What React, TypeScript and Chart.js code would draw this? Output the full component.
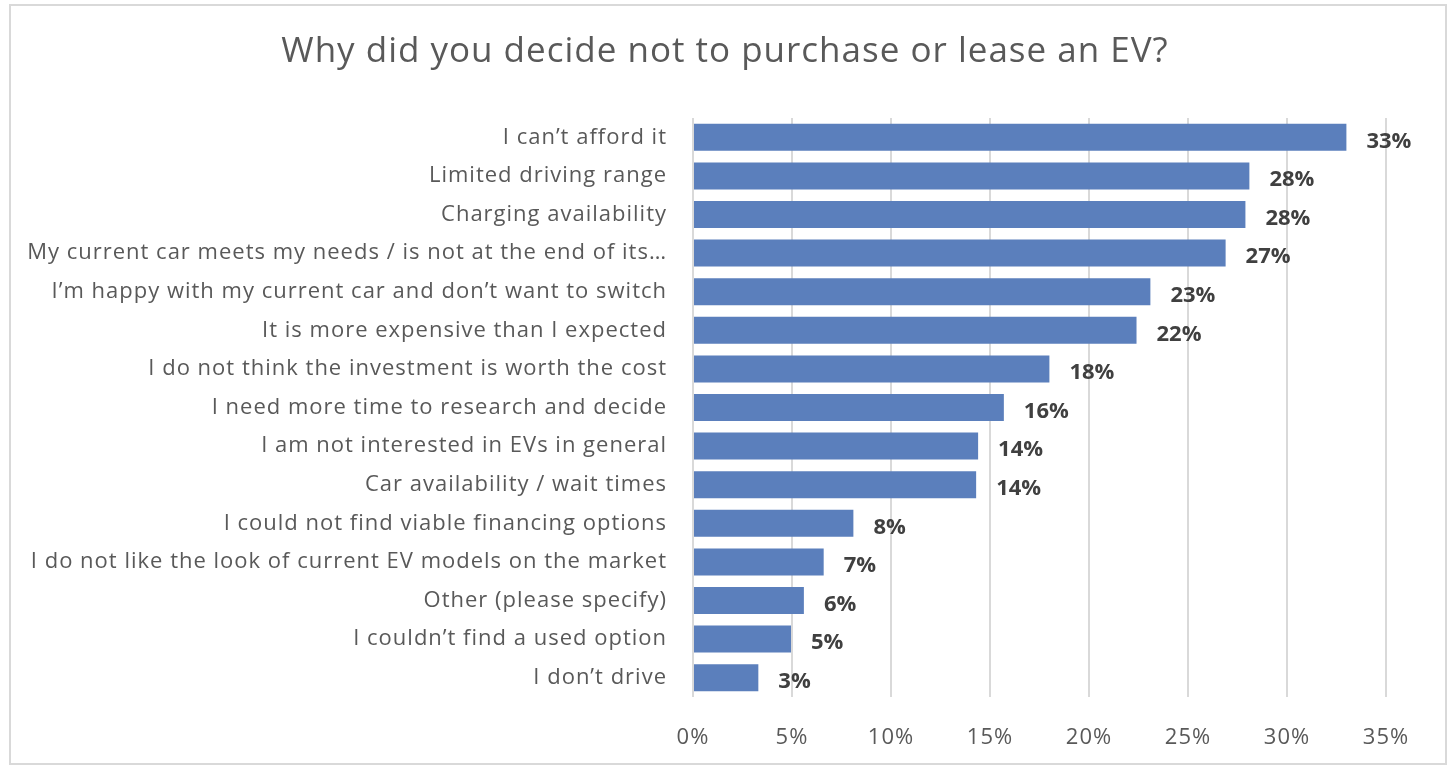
import React, { useEffect, useRef } from "react";
import { Chart, registerables } from "chart.js";

Chart.register(...registerables);

const TITLE = "Why did you decide not to purchase or lease an EV?";

const categories = [
  "I can\u2019t afford it",
  "Limited driving range",
  "Charging availability",
  "My current car meets my needs / is not at the end of its\u2026",
  "I\u2019m happy with my current car and don\u2019t want to switch",
  "It is more expensive than I expected",
  "I do not think the investment is worth the cost",
  "I need more time to research and decide",
  "I am not interested in EVs in general",
  "Car availability / wait times",
  "I could not find viable financing options",
  "I do not like the look of current EV models on the market",
  "Other (please specify)",
  "I couldn\u2019t find a used option",
  "I don\u2019t drive",
];

const values = [33.0, 28.1, 27.9, 26.9, 23.1, 22.4, 18.0, 15.7, 14.4, 14.3, 8.1, 6.6, 5.6, 4.95, 3.3];

const xTickMin = 0;
const xTickMax = 35;
const xTickStep = 5;

const FONT = "'Open Sans', Lato, sans-serif";
const TEXT = "#595959";

export default function App() {
  const ref = useRef<HTMLCanvasElement | null>(null);

  useEffect(() => {
    if (!ref.current) return;
    const framePlugin = {
      id: "frame",
      beforeDraw(chart: any) {
        const ctx = chart.ctx;
        ctx.save();
        ctx.fillStyle = "#ffffff";
        ctx.fillRect(0, 0, chart.width, chart.height);
        ctx.strokeStyle = "#d9d9d9";
        ctx.lineWidth = 2;
        ctx.strokeRect(10, 5, 1436, 759);
        ctx.fillStyle = TEXT;
        ctx.font = `35px ${FONT}`;
        ctx.textAlign = "center";
        ctx.textBaseline = "middle";
        (ctx as any).letterSpacing = "1px";
        ctx.fillText(TITLE, 725, 52);
        ctx.restore();
        (ctx as any).letterSpacing = "1px";
      },
      beforeDatasetsDraw(chart: any) {
        (chart.ctx as any).letterSpacing = "0px";
      },
      afterDatasetsDraw(chart: any) {
        const ctx = chart.ctx;
        const meta = chart.getDatasetMeta(0);
        ctx.save();
        (ctx as any).letterSpacing = "0px";
        ctx.fillStyle = "#404040";
        ctx.font = `bold 22px ${FONT}`;
        ctx.textAlign = "left";
        ctx.textBaseline = "middle";
        meta.data.forEach((bar: any, i: number) => {
          ctx.fillText(Math.round(values[i]) + "%", bar.x + 20, bar.y + 4);
        });
        ctx.restore();
      },
    };

    const chart = new Chart(ref.current, {
      type: "bar",
      data: {
        labels: categories,
        datasets: [
          {
            data: values,
            backgroundColor: "#5b7fbc",
            barPercentage: 0.7,
            categoryPercentage: 1,
          },
        ],
      },
      options: {
        indexAxis: "y",
        animation: false,
        responsive: false,
        maintainAspectRatio: false,
        layout: { padding: { left: 0, top: 118, right: 63, bottom: 0 } },
        plugins: {
          legend: { display: false },
          tooltip: { enabled: false },
          title: { display: false },
        },
        scales: {
          x: {
            min: xTickMin,
            max: xTickMax,
            grid: { color: "#d9d9d9", lineWidth: 2, drawTicks: false },
            border: { display: false },
            ticks: {
              stepSize: xTickStep,
              padding: 28,
              color: TEXT,
              font: { family: FONT, size: 22 },
              callback: (v: any) => v + "%",
            },
            afterFit: (s: any) => {
              s.height = 70;
            },
          },
          y: {
            grid: { display: false, drawTicks: false },
            border: { display: false },
            ticks: {
              padding: 26,
              color: TEXT,
              font: { family: FONT, size: 22 },
              autoSkip: false,
            },
            afterFit: (s: any) => {
              s.width = 693;
            },
          },
        },
      },
      plugins: [framePlugin],
    });
    return () => chart.destroy();
  }, []);

  return (
    <div style={{ position: "absolute", left: 0, top: 0, width: 1449, height: 767 }}>
      <canvas ref={ref} width={1449} height={767} style={{ width: 1449, height: 767 }} />
    </div>
  );
}
